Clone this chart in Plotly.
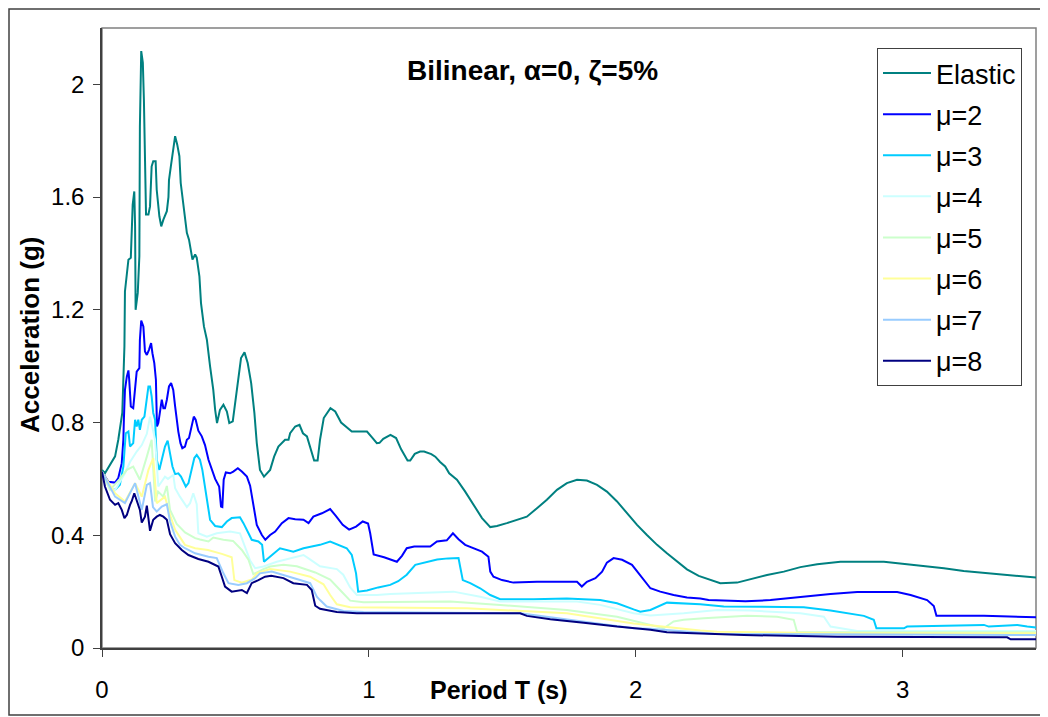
import plotly.graph_objects as go

# ---- data (period T in s, acceleration in g) ----
T_elastic = [0, 0.011, 0.049, 0.061, 0.076, 0.084, 0.086, 0.099, 0.108, 0.111, 0.115, 0.121, 0.124, 0.126,
             0.134, 0.140, 0.142, 0.147, 0.153, 0.157, 0.161, 0.165, 0.174, 0.180, 0.186, 0.192, 0.201, 0.205,
             0.215, 0.222, 0.230, 0.243, 0.249, 0.251, 0.258, 0.265, 0.274, 0.282, 0.290, 0.295, 0.305, 0.311,
             0.318, 0.326, 0.333, 0.339, 0.349, 0.355, 0.365, 0.371, 0.382, 0.393, 0.405, 0.417, 0.424, 0.431,
             0.442, 0.455, 0.468, 0.477, 0.490, 0.499, 0.509, 0.521, 0.534, 0.546, 0.559, 0.571, 0.580, 0.592,
             0.607, 0.630, 0.645, 0.661, 0.686, 0.699, 0.705, 0.724, 0.740, 0.753, 0.768, 0.786, 0.795, 0.808,
             0.817, 0.831, 0.856, 0.874, 0.896, 0.936, 0.993, 1.011, 1.030, 1.040, 1.054, 1.081, 1.102, 1.121,
             1.132, 1.145, 1.155, 1.172, 1.192, 1.207, 1.234, 1.249, 1.267, 1.286, 1.301, 1.330, 1.361, 1.392,
             1.424, 1.455, 1.480, 1.517, 1.555, 1.592, 1.630, 1.667, 1.705, 1.742, 1.780, 1.817, 1.855, 1.892,
             1.930, 1.967, 2.005, 2.042, 2.080, 2.117, 2.155, 2.192, 2.236, 2.280, 2.317, 2.380, 2.430, 2.492,
             2.555, 2.617, 2.680, 2.767, 2.930, 2.980, 3.055, 3.155, 3.229, 3.305, 3.367, 3.430, 3.500]
A_elastic = [0.632, 0.62, 0.68, 0.739, 0.834, 1.07, 1.265, 1.378, 1.385, 1.473, 1.573, 1.62, 1.496, 1.2,
             1.26, 1.39, 1.85, 2.118, 2.077, 1.946, 1.674, 1.538, 1.538, 1.567, 1.709, 1.727, 1.727, 1.626,
             1.532, 1.496, 1.52, 1.55, 1.60, 1.66, 1.709, 1.757, 1.816, 1.786, 1.745, 1.65, 1.579, 1.52,
             1.473, 1.449, 1.402, 1.378, 1.396, 1.385, 1.319, 1.224, 1.141, 1.094, 0.999, 0.916, 0.845, 0.798,
             0.845, 0.863, 0.839, 0.798, 0.804, 0.869, 0.94, 1.029, 1.049, 1.011, 0.94, 0.834, 0.727, 0.632,
             0.608, 0.632, 0.679, 0.715, 0.739, 0.739, 0.762, 0.786, 0.792, 0.762, 0.751, 0.691, 0.665, 0.665,
             0.739, 0.816, 0.851, 0.839, 0.80, 0.768, 0.768, 0.748, 0.727, 0.728, 0.742, 0.756, 0.745, 0.705,
             0.685, 0.665, 0.665, 0.689, 0.697, 0.697, 0.688, 0.679, 0.66, 0.644, 0.62, 0.597, 0.555, 0.508,
             0.461, 0.429, 0.433, 0.443, 0.455, 0.466, 0.496, 0.526, 0.561, 0.585, 0.597, 0.594, 0.579, 0.555,
             0.52, 0.478, 0.437, 0.401, 0.366, 0.336, 0.306, 0.279, 0.256, 0.241, 0.23, 0.232, 0.244, 0.259,
             0.271, 0.287, 0.297, 0.306, 0.306, 0.301, 0.295, 0.283, 0.273, 0.267, 0.263, 0.256, 0.25]

T_mu2 = [0, 0.024, 0.049, 0.061, 0.074, 0.080, 0.082, 0.086, 0.093, 0.099, 0.102, 0.108, 0.117, 0.124, 0.130,
         0.140, 0.142, 0.147, 0.155, 0.161, 0.168, 0.176, 0.184, 0.189, 0.196, 0.202, 0.206, 0.211, 0.217,
         0.224, 0.230, 0.236, 0.243, 0.251, 0.259, 0.267, 0.274, 0.280, 0.286, 0.294, 0.301, 0.311, 0.318,
         0.326, 0.336, 0.344, 0.351, 0.361, 0.374, 0.386, 0.399, 0.411, 0.424, 0.439, 0.446, 0.451, 0.456,
         0.464, 0.480, 0.492, 0.509, 0.524, 0.543, 0.555, 0.567, 0.580, 0.599, 0.612, 0.630, 0.649, 0.674,
         0.699, 0.724, 0.755, 0.774, 0.792, 0.824, 0.855, 0.877, 0.902, 0.926, 0.952, 0.977, 0.997, 1.005,
         1.018, 1.057, 1.105, 1.124, 1.142, 1.170, 1.230, 1.255, 1.292, 1.315, 1.336, 1.361, 1.392, 1.424,
         1.448, 1.455, 1.467, 1.499, 1.542, 1.630, 1.780, 1.798, 1.817, 1.849, 1.874, 1.892, 1.917, 1.949,
         1.986, 2.005, 2.030, 2.048, 2.055, 2.092, 2.142, 2.192, 2.242, 2.273, 2.411, 2.505, 2.605, 2.655,
         2.730, 2.830, 2.980, 3.030, 3.092, 3.117, 3.127, 3.305, 3.455, 3.500]
A_mu2 = [0.625, 0.59, 0.587, 0.603, 0.656, 0.739, 0.81, 0.916, 0.963, 0.985, 0.952, 0.857, 0.851, 0.916, 0.981,
         0.993, 1.094, 1.162, 1.141, 1.052, 1.04, 1.058, 1.082, 1.046, 1.011, 0.952, 0.786, 0.798, 0.845,
         0.881, 0.851, 0.851, 0.881, 0.928, 0.94, 0.916, 0.857, 0.81, 0.768, 0.727, 0.709, 0.715, 0.739,
         0.745, 0.786, 0.821, 0.81, 0.771, 0.751, 0.72, 0.668, 0.632, 0.6, 0.573, 0.502, 0.5, 0.597,
         0.623, 0.62, 0.626, 0.638, 0.626, 0.608, 0.576, 0.502, 0.437, 0.401, 0.384, 0.401, 0.413, 0.443,
         0.461, 0.457, 0.455, 0.443, 0.466, 0.478, 0.493, 0.468, 0.437, 0.42, 0.431, 0.449, 0.442, 0.407,
         0.332, 0.322, 0.306, 0.327, 0.354, 0.36, 0.36, 0.378, 0.382, 0.407, 0.386, 0.366, 0.354, 0.342,
         0.324, 0.271, 0.253, 0.241, 0.232, 0.235, 0.235, 0.218, 0.235, 0.248, 0.271, 0.303, 0.319, 0.313,
         0.295, 0.271, 0.241, 0.218, 0.212, 0.2, 0.188, 0.179, 0.176, 0.17, 0.166, 0.17, 0.18, 0.185,
         0.192, 0.199, 0.199, 0.188, 0.17, 0.149, 0.114, 0.114, 0.109, 0.109]

T_mu3 = [0, 0.030, 0.049, 0.067, 0.080, 0.086, 0.089, 0.099, 0.105, 0.117, 0.124, 0.130, 0.136, 0.142, 0.149,
         0.159, 0.164, 0.168, 0.174, 0.180, 0.186, 0.192, 0.199, 0.205, 0.215, 0.224, 0.236, 0.246, 0.255,
         0.264, 0.274, 0.286, 0.296, 0.305, 0.314, 0.324, 0.336, 0.346, 0.355, 0.367, 0.376, 0.386, 0.396,
         0.405, 0.424, 0.449, 0.468, 0.486, 0.517, 0.530, 0.549, 0.561, 0.586, 0.600, 0.607, 0.630, 0.667,
         0.717, 0.755, 0.786, 0.817, 0.855, 0.886, 0.917, 0.936, 0.952, 0.960, 0.993, 1.035, 1.080, 1.110,
         1.142, 1.174, 1.207, 1.256, 1.297, 1.336, 1.342, 1.352, 1.380, 1.417, 1.455, 1.492, 1.617, 1.742,
         1.867, 1.930, 1.992, 2.017, 2.055, 2.085, 2.117, 2.242, 2.330, 2.630, 2.730, 2.855, 2.892, 2.902,
         3.005, 3.017, 3.305, 3.323, 3.430, 3.467, 3.500]
A_mu3 = [0.625, 0.567, 0.561, 0.579, 0.644, 0.727, 0.762, 0.768, 0.715, 0.727, 0.81, 0.786, 0.81, 0.774, 0.81,
         0.821, 0.857, 0.905, 0.928, 0.928, 0.893, 0.834, 0.81, 0.668, 0.632, 0.668, 0.715, 0.736, 0.691,
         0.644, 0.617, 0.62, 0.608, 0.59, 0.573, 0.585, 0.632, 0.674, 0.685, 0.668, 0.632, 0.573, 0.502,
         0.455, 0.433, 0.429, 0.449, 0.461, 0.464, 0.443, 0.407, 0.384, 0.378, 0.366, 0.306, 0.324, 0.354,
         0.342, 0.354, 0.36, 0.366, 0.378, 0.366, 0.354, 0.33, 0.265, 0.2, 0.204, 0.215, 0.224, 0.237,
         0.26, 0.295, 0.303, 0.314, 0.318, 0.319, 0.289, 0.241, 0.23, 0.212, 0.188, 0.173, 0.173, 0.176,
         0.17, 0.159, 0.137, 0.129, 0.135, 0.147, 0.161, 0.155, 0.147, 0.145, 0.133, 0.114, 0.1, 0.07,
         0.07, 0.076, 0.082, 0.076, 0.082, 0.076, 0.073]

T_mu4 = [0, 0.024, 0.049, 0.086, 0.105, 0.130, 0.149, 0.168, 0.180, 0.199, 0.211, 0.236, 0.247, 0.267, 0.274,
         0.292, 0.318, 0.330, 0.342, 0.355, 0.361, 0.393, 0.430, 0.480, 0.517, 0.530, 0.555, 0.574, 0.605,
         0.655, 0.705, 0.755, 0.774, 0.817, 0.880, 0.904, 0.930, 0.955, 1.030, 1.080, 1.317, 1.417, 1.492,
         1.780, 1.867, 1.992, 2.055, 2.180, 2.305, 2.430, 2.617, 2.705, 2.730, 2.830, 3.500]
A_mu4 = [0.625, 0.573, 0.56, 0.62, 0.66, 0.697, 0.72, 0.76, 0.821, 0.739, 0.573, 0.608, 0.6, 0.614, 0.567,
         0.537, 0.5, 0.514, 0.549, 0.51, 0.407, 0.395, 0.407, 0.413, 0.407, 0.372, 0.31, 0.283, 0.289,
         0.306, 0.318, 0.33, 0.318, 0.29, 0.28, 0.26, 0.215, 0.188, 0.188, 0.192, 0.2, 0.182, 0.165,
         0.165, 0.153, 0.123, 0.115, 0.123, 0.135, 0.133, 0.123, 0.111, 0.076, 0.06, 0.06]

T_mu5 = [0, 0.030, 0.067, 0.093, 0.117, 0.142, 0.168, 0.186, 0.199, 0.210, 0.230, 0.243, 0.255, 0.280, 0.311,
         0.349, 0.367, 0.399, 0.417, 0.455, 0.491, 0.524, 0.549, 0.567, 0.605, 0.630, 0.680, 0.730, 0.799,
         0.855, 0.892, 0.930, 0.980, 1.305, 1.492, 1.742, 1.930, 2.055, 2.105, 2.142, 2.180, 2.255, 2.417,
         2.530, 2.592, 2.605, 3.500]
A_mu5 = [0.625, 0.561, 0.6, 0.632, 0.644, 0.597, 0.679, 0.739, 0.52, 0.555, 0.537, 0.575, 0.49, 0.44, 0.41,
         0.39, 0.385, 0.378, 0.392, 0.384, 0.38, 0.348, 0.313, 0.262, 0.28, 0.289, 0.295, 0.29, 0.268,
         0.243, 0.206, 0.168, 0.162, 0.165, 0.153, 0.135, 0.111, 0.082, 0.07, 0.094, 0.1, 0.106, 0.114,
         0.111, 0.1, 0.056, 0.056]

T_mu6 = [0, 0.049, 0.086, 0.124, 0.149, 0.174, 0.192, 0.205, 0.236, 0.255, 0.274, 0.311, 0.349, 0.397, 0.449,
         0.486, 0.496, 0.524, 0.561, 0.580, 0.630, 0.705, 0.780, 0.830, 0.855, 0.880, 0.930, 1.367, 1.742,
         1.992, 2.242, 2.305, 2.742, 3.500]
A_mu6 = [0.625, 0.549, 0.52, 0.585, 0.537, 0.632, 0.674, 0.514, 0.537, 0.472, 0.419, 0.366, 0.354, 0.348, 0.334,
         0.322, 0.241, 0.232, 0.243, 0.265, 0.28, 0.271, 0.253, 0.226, 0.188, 0.155, 0.145, 0.141, 0.123,
         0.087, 0.062, 0.058, 0.052, 0.052]

T_mu7 = [0, 0.049, 0.086, 0.124, 0.149, 0.168, 0.180, 0.191, 0.205, 0.224, 0.243, 0.255, 0.274, 0.292, 0.311,
         0.349, 0.399, 0.430, 0.455, 0.474, 0.511, 0.543, 0.574, 0.592, 0.636, 0.693, 0.742, 0.780, 0.805,
         0.817, 0.842, 0.905, 0.980, 1.567, 1.992, 2.055, 2.242, 2.305, 3.500]
A_mu7 = [0.625, 0.537, 0.514, 0.585, 0.49, 0.579, 0.585, 0.5, 0.484, 0.502, 0.51, 0.449, 0.395, 0.366, 0.354,
         0.336, 0.324, 0.319, 0.265, 0.23, 0.224, 0.23, 0.248, 0.265, 0.271, 0.256, 0.241, 0.23, 0.182,
         0.17, 0.147, 0.131, 0.128, 0.123, 0.07, 0.068, 0.054, 0.05, 0.046]

T_mu8 = [0, 0.011, 0.030, 0.049, 0.061, 0.074, 0.084, 0.093, 0.105, 0.111, 0.121, 0.130, 0.142, 0.149, 0.161,
         0.168, 0.174, 0.180, 0.192, 0.205, 0.217, 0.230, 0.243, 0.255, 0.274, 0.299, 0.324, 0.361, 0.399,
         0.436, 0.449, 0.461, 0.486, 0.524, 0.543, 0.561, 0.586, 0.611, 0.634, 0.680, 0.717, 0.768, 0.786,
         0.799, 0.817, 0.880, 0.955, 1.567, 1.592, 1.680, 1.805, 1.930, 2.055, 2.117, 2.217, 2.405, 2.755,
         3.392, 3.405, 3.500]
A_mu8 = [0.626, 0.573, 0.526, 0.508, 0.514, 0.49, 0.461, 0.472, 0.508, 0.52, 0.549, 0.526, 0.49, 0.445, 0.466,
         0.505, 0.461, 0.416, 0.455, 0.466, 0.472, 0.466, 0.455, 0.404, 0.372, 0.348, 0.33, 0.316, 0.306,
         0.289, 0.253, 0.218, 0.2, 0.206, 0.195, 0.23, 0.241, 0.253, 0.256, 0.248, 0.23, 0.224, 0.206,
         0.15, 0.139, 0.128, 0.123, 0.123, 0.114, 0.102, 0.09, 0.076, 0.065, 0.056, 0.052, 0.046, 0.04,
         0.038, 0.031, 0.031]

series_names = ["Elastic", "μ=2", "μ=3", "μ=4", "μ=5", "μ=6", "μ=7", "μ=8"]
series_T = [T_elastic, T_mu2, T_mu3, T_mu4, T_mu5, T_mu6, T_mu7, T_mu8]
series_A = [A_elastic, A_mu2, A_mu3, A_mu4, A_mu5, A_mu6, A_mu7, A_mu8]
series_colors = ["#008080", "#0000FF", "#00CCFF", "#CCFFFF", "#CCFFCC", "#FFFF99", "#99CCFF", "#000080"]

x_ticks = [0, 1, 2, 3]
y_ticks = [0, 0.4, 0.8, 1.2, 1.6, 2.0]
y_ticktext = ["0", "0.4", "0.8", "1.2", "1.6", "2"]

FONT = "Liberation Sans, Arial, sans-serif"

fig = go.Figure()
for i, (name, t, a, c) in enumerate(zip(series_names, series_T, series_A, series_colors)):
    fig.add_trace(go.Scatter(x=t, y=a, mode="lines", name=name, legendgroup=f"g{i}",
                             line=dict(color=c, width=2)))

# page body has an 8px margin, so the figure starts at (8, 8) in the window
fig.update_layout(
    width=1040, height=709,
    margin=dict(l=94, r=12, t=20, b=69),
    paper_bgcolor="white", plot_bgcolor="white",
    font=dict(family=FONT, color="black"),
    showlegend=True,
    legend=dict(x=(877 - 102) / 934, y=(648 - 48) / 620, xanchor="left", yanchor="top",
                bordercolor="#404040", borderwidth=1, bgcolor="white",
                font=dict(family=FONT, size=27, color="black"),
                itemwidth=48, tracegroupgap=3, traceorder="grouped"),
    xaxis=dict(range=[0, 3.5], tickvals=x_ticks, ticks="outside", ticklen=7, tickcolor="#404040",
               showline=True, linecolor="#404040", linewidth=1.5, showgrid=False, zeroline=False,
               tickfont=dict(family=FONT, size=24), ticklabelstandoff=12),
    yaxis=dict(range=[0, 2.2], tickvals=y_ticks, ticktext=y_ticktext, ticks="outside", ticklen=7,
               tickcolor="#404040", showline=True, linecolor="#404040", linewidth=1.5,
               showgrid=False, zeroline=False, tickfont=dict(family=FONT, size=24),
               ticklabelstandoff=4),
    shapes=[
        dict(type="rect", xref="paper", yref="paper", x0=0, x1=1, y0=0, y1=1,
             line=dict(color="#808080", width=1.5), layer="below"),
        dict(type="rect", xref="paper", yref="paper", x0=(9 - 102) / 934, x1=(1043 - 102) / 934,
             y0=(648 - 715) / 620, y1=(648 - 9) / 620,
             line=dict(color="#404040", width=1.5), layer="below"),
    ],
    annotations=[
        dict(text="<b>Bilinear, α=0, ζ=5%</b>", xref="paper", yref="paper",
             x=(532 - 102) / 934, y=(648 - 70) / 620, xanchor="center", yanchor="middle",
             showarrow=False, font=dict(family=FONT, size=28)),
        dict(text="<b>Period T (s)</b>", xref="paper", yref="paper",
             x=(499 - 102) / 934, y=(648 - 690) / 620, xanchor="center", yanchor="middle",
             showarrow=False, font=dict(family=FONT, size=25)),
        dict(text="<b>Acceleration (g)</b>", xref="paper", yref="paper", textangle=-90,
             x=(30 - 102) / 934, y=(648 - 335) / 620, xanchor="center", yanchor="middle",
             showarrow=False, font=dict(family=FONT, size=26)),
    ],
)

fig.write_html("out.html")
